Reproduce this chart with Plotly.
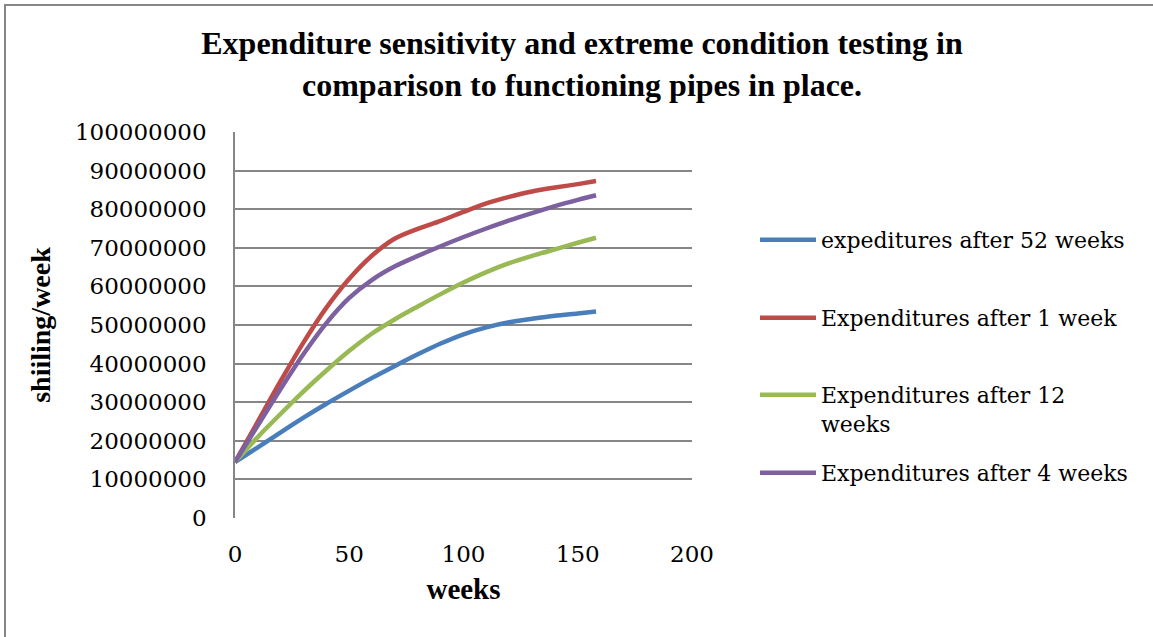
import plotly.graph_objects as go

weeks = [0, 10, 20, 30, 40, 50, 60, 70, 80, 90, 100, 110, 120, 130, 140, 150, 158]

exp_52 = [14.5, 18.3, 22.2, 26.0, 29.6, 33.0, 36.3, 39.4, 42.4, 45.2, 47.6, 49.4, 50.7, 51.6, 52.4, 53.0, 53.5]
exp_1 = [14.5, 25.0, 35.5, 45.5, 54.5, 62.0, 68.0, 72.4, 74.9, 77.0, 79.3, 81.5, 83.2, 84.6, 85.6, 86.5, 87.3]
exp_12 = [14.5, 21.0, 27.0, 32.8, 38.2, 43.3, 47.8, 51.5, 54.8, 58.0, 61.0, 63.7, 66.0, 67.9, 69.6, 71.3, 72.6]
exp_4 = [14.5, 24.0, 33.5, 42.5, 50.5, 57.0, 61.7, 65.2, 67.9, 70.4, 72.8, 75.0, 77.1, 79.0, 80.8, 82.4, 83.6]

series_names = ["expeditures after 52 weeks", "Expenditures after 1 week",
                "Expenditures after 12<br>weeks", "Expenditures after 4 weeks"]
series_values = [exp_52, exp_1, exp_12, exp_4]
colors = ["#4A7EBB", "#BE4B48", "#98B954", "#7D60A0"]
legend_ids = ["legend", "legend2", "legend3", "legend4"]
legend_y = [239, 317, 394, 472]  # pixel centres of legend entries

y_ticks = list(range(0, 100000001, 10000000))
x_ticks = [0, 50, 100, 150, 200]

W, H = 1153, 637
L, R, T, B = 235, 692, 132, 518
body_font = "DejaVu Serif"
title_font = "Liberation Serif"

fig = go.Figure()
for name, vals, col, lg in zip(series_names, series_values, colors, legend_ids):
    fig.add_trace(go.Scatter(
        x=weeks, y=[v * 1e6 for v in vals], mode="lines", name=name,
        line=dict(color=col, width=4.5, shape="spline", smoothing=0.8),
        legend=lg, showlegend=True,
    ))

pw, ph = R - L, B - T
legend_layout = {}
for lg, yc in zip(legend_ids, legend_y):
    legend_layout[lg] = dict(
        x=(755 - L) / pw, xanchor="left",
        y=(B - yc + 20) / ph, yanchor="top",
        font=dict(family=body_font, size=22, color="black"),
        bgcolor="rgba(0,0,0,0)", valign="top", itemwidth=56,
        itemclick=False, itemdoubleclick=False,
    )

fig.update_layout(
    width=W, height=H, autosize=False, showlegend=True,
    margin=dict(l=L, r=W - R, t=T, b=H - B, pad=0),
    paper_bgcolor="white", plot_bgcolor="white",
    title=dict(
        text="Expenditure sensitivity and extreme condition testing in<br>comparison to functioning pipes in place.",
        font=dict(family=title_font, size=32, color="black", weight="bold"),
        x=582 / W, xanchor="center", xref="container",
        y=1 - 54 / H, yanchor="top", yref="container",
    ),
    xaxis=dict(
        range=[0, 200], tickvals=x_ticks, showgrid=False, zeroline=False,
        showline=False, ticks="", ticklabelstandoff=20,
        tickfont=dict(family=body_font, size=23, color="black"),
        title=dict(text="weeks", standoff=12,
                   font=dict(family=title_font, size=29, color="black", weight="bold")),
        fixedrange=True,
    ),
    yaxis=dict(
        range=[0, 100000000], tickvals=y_ticks, tickformat="d",
        showgrid=True, gridcolor="#868686", gridwidth=1.5,
        zeroline=False, showline=True, linecolor="#868686", linewidth=1.5,
        ticks="", ticklabelstandoff=22,
        tickfont=dict(family=body_font, size=23, color="black"),
        title=dict(text="shiiling/week", standoff=16,
                   font=dict(family=title_font, size=28, color="black", weight="bold")),
        fixedrange=True,
    ),
    **legend_layout,
)

# chart-area border (extends beyond the visible area on right and bottom)
fig.add_shape(type="rect", xref="paper", yref="paper",
              x0=(5 - L) / pw, x1=(1170 - L) / pw,
              y0=(B - 660) / ph, y1=(B - 5) / ph,
              line=dict(color="#868686", width=2), fillcolor="rgba(0,0,0,0)", layer="below")

fig.write_html("out.html", config={"displayModeBar": False})
